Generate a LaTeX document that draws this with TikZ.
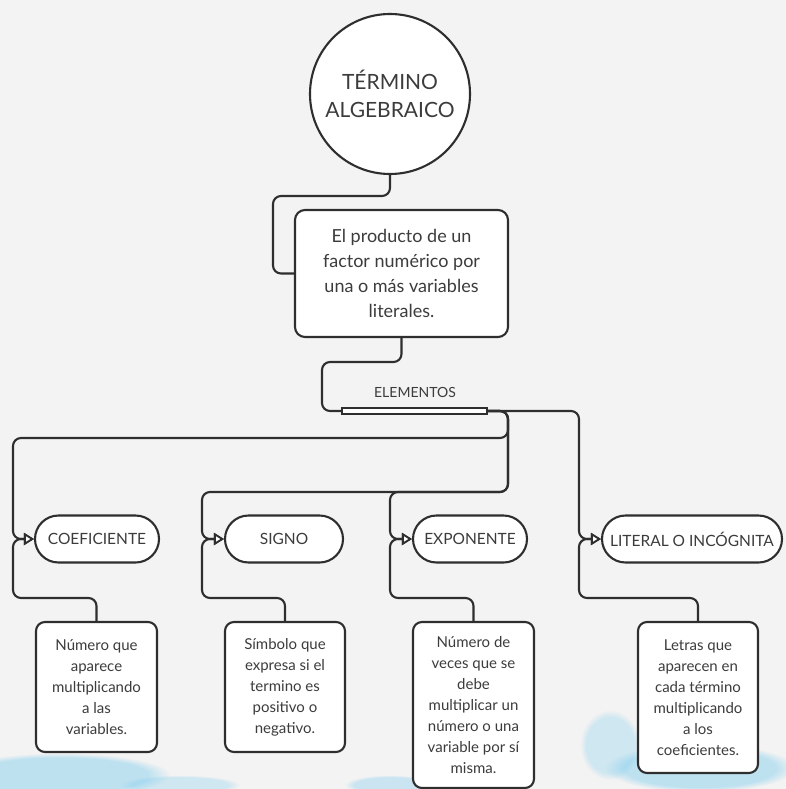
\documentclass[tikz,border=0pt]{standalone}
\usepackage{fontspec}
\setmainfont{Lato}
\usetikzlibrary{arrows.meta,shapes.misc,fadings}
\definecolor{ink}{HTML}{2E2E2E}
\definecolor{txt}{HTML}{3C3C3C}
\definecolor{bg}{HTML}{F3F3F3}
\definecolor{wash}{HTML}{7FCDEE}
\tikzset{
  conn/.style={draw=ink, line width=2.1pt, rounded corners=8pt},
  arr/.style={conn, -{Triangle[fill=white, length=10pt, width=12pt, line width=1.8pt]}},
  pill/.style={rounded rectangle, draw=ink, line width=2.1pt, fill=white, text=txt,
     font=\fontsize{15.5}{18}\selectfont, minimum height=47pt, inner sep=0pt},
  descbox/.style={rectangle, rounded corners=9pt, draw=ink, line width=2.1pt, fill=white, text=txt,
     font=\fontsize{15}{21}\selectfont, align=center, inner sep=0pt},
  blob/.style={fill=wash, path fading=circle with fuzzy edge 20 percent},
}
\begin{document}
\begin{tikzpicture}[x=1pt, y=-1pt]
\useasboundingbox (0,0) rectangle (786,789);
\fill[bg] (0,0) rectangle (786,789);
% soft watercolor wash at the bottom
\fill[blob, opacity=0.45] (60,775) ellipse (110pt and 22pt);
\fill[blob, opacity=0.3] (180,785) ellipse (60pt and 10pt);
\fill[blob, opacity=0.35] (390,785) ellipse (45pt and 10pt);
\fill[blob, opacity=0.45] (700,768) ellipse (95pt and 24pt);
\fill[blob, opacity=0.3] (610,745) ellipse (30pt and 35pt);

% nodes
\node[circle, draw=ink, line width=2.1pt, fill=white, minimum size=160pt, inner sep=0pt,
      align=center, text=txt, font=\fontsize{21}{28}\selectfont] (circ) at (390,94) {TÉRMINO\\ALGEBRAICO};
\node[descbox, rounded corners=10pt, minimum width=213pt, minimum height=127pt,
      font=\fontsize{18}{25}\selectfont] (def) at (401.5,273.5)
      {El producto de un\\factor numérico por\\una o más variables\\literales.};
\node[text=txt, font=\fontsize{14}{16}\selectfont] (elab) at (415,392) {ELEMENTOS};
\node[rectangle, draw=ink, line width=1.8pt, fill=white, minimum width=145pt, minimum height=6pt, inner sep=0pt] (bar) at (414.5,411) {};

\node[pill, minimum width=124pt] (coef) at (97,539) {COEFICIENTE};
\node[pill, minimum width=118pt] (signo) at (284,539) {SIGNO};
\node[pill, minimum width=114pt] (expo) at (470,539) {EXPONENTE};
\node[pill, minimum width=180pt] (lit) at (692,539) {LITERAL O INCÓGNITA};

\node[descbox, minimum width=121pt, minimum height=130pt] (b1) at (96.5,687)
   {Número que\\aparece\\multiplicando\\a las\\variables.};
\node[descbox, minimum width=120pt, minimum height=130pt] (b2) at (285,687)
   {Símbolo que\\expresa si el\\termino es\\positivo o\\negativo.};
\node[descbox, minimum width=121pt, minimum height=166pt] (b3) at (473.5,705)
   {Número de\\veces que se\\debe\\multiplicar un\\número o una\\variable por sí\\misma.};
\node[descbox, minimum width=120pt, minimum height=151pt] (b4) at (698,697.5)
   {Letras que\\aparecen en\\cada término\\multiplicando\\a los\\coeficientes.};

% connectors
\draw[conn] (circ.south) |- (273,196) |- (def.west);
\draw[conn] (def.south) |- (322,362) |- (bar.west);

\draw[arr] (bar.east) -- (508,411) |- (13,438) |- (coef.west);
\draw[arr] (bar.east) -- (508,411) |- (202,492) |- (signo.west);
\draw[arr] (bar.east) -- (508,411) |- (390,492) |- (expo.west);
\draw[arr] (bar.east) -| (579,500) |- (lit.west);

\draw[arr] (b1.north) |- (13,598) |- (coef.west);
\draw[arr] (b2.north) |- (202,598) |- (signo.west);
\draw[arr] (b3.north) |- (390,598) |- (expo.west);
\draw[arr] (b4.north) |- (579,598) |- (lit.west);
\end{tikzpicture}
\end{document}
